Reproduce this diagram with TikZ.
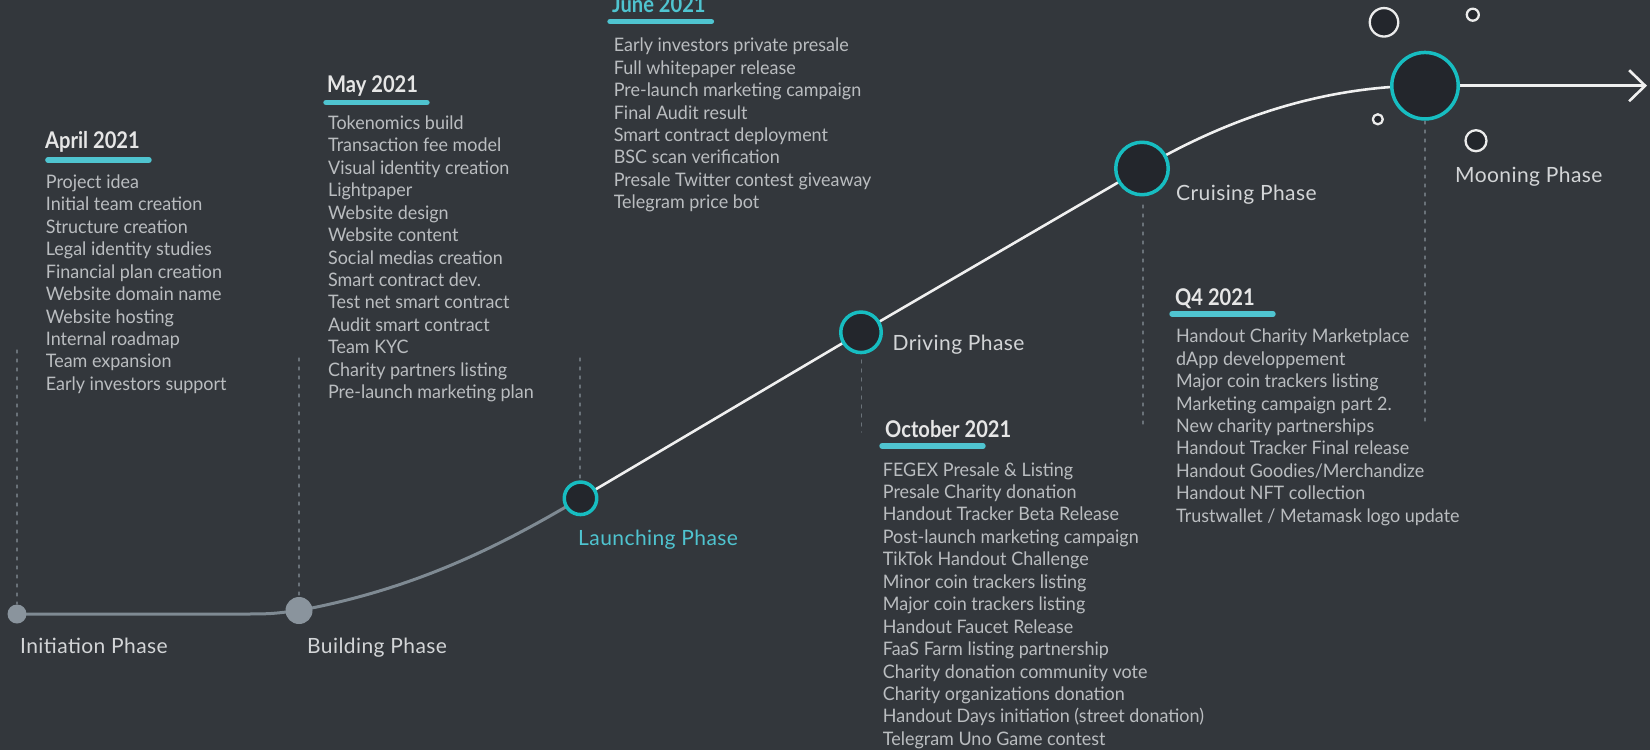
\documentclass[tikz,border=0pt]{standalone}
\usepackage{fontspec}
\setmainfont{Lato}
\newfontfamily\itemfont{Lato}[FakeStretch=0.965]
\newfontfamily\headfont{Lato}[FakeStretch=0.875]
\newfontfamily\phasefont{Lato}[LetterSpace=2.0]
\usetikzlibrary{arrows.meta,positioning}
\definecolor{bgc}{HTML}{33373C}
\definecolor{dotfill}{HTML}{23262C}
\definecolor{teal}{HTML}{17BDC1}
\definecolor{cyanbar}{HTML}{4FC4D0}
\definecolor{itemc}{HTML}{BABDC0}
\definecolor{phasec}{HTML}{D3D5D7}
\definecolor{headc}{HTML}{E6E6E6}
\definecolor{greyline}{HTML}{7F8A93}
\definecolor{greydot}{HTML}{8A949D}
\definecolor{guidec}{HTML}{6A7279}
\tikzset{
  phasedot/.style={circle, draw=teal, line width=3.5pt, fill=dotfill, inner sep=0pt},
  greyball/.style={circle, fill=greydot, inner sep=0pt},
  bubble/.style={circle, draw=white!92!black, line width=2.3pt, fill=dotfill, inner sep=0pt},
  phase/.style={anchor=base west, inner sep=0pt, text=phasec, font=\phasefont\fontsize{21}{24}\selectfont},
  head/.style={anchor=base west, inner sep=0pt, text=headc, font=\headfont\fontsize{23}{26}\selectfont\bfseries},
  item/.style={anchor=base west, inner sep=0pt, text=itemc, font=\itemfont\fontsize{18.6}{22}\selectfont},
  bar/.style={cyanbar, line width=5.4pt},
  guide/.style={guidec, line width=1.1pt, dash pattern=on 3pt off 6pt},
}
\begin{document}
\begin{tikzpicture}[x=1pt, y=-1pt, line join=round, line cap=round]
  \def\dy{22.45}
  \fill[bgc] (0,0) rectangle (1650,750);
  \useasboundingbox (0,0) rectangle (1650,750);
  % guide lines
  \foreach \x/\ya/\yb in {17/350/604, 299/358/597, 580/358/478, 861.5/360/432, 1143/205/424, 1425/121/424}
    \draw[guide] (\x,\ya) -- (\x,\yb);
  % track
  \coordinate (pInit) at (17,614);
  \coordinate (pBuild) at (299,610.5);
  \coordinate (pLaunch) at (580.5,498.3);
  \coordinate (pDrive) at (861,332.3);
  \coordinate (pCruise) at (1142,168.5);
  \coordinate (pMoon) at (1425,85.7);
  \coordinate (pEnd) at (1647,85.7);
  \draw[greyline, line width=3pt] (pInit) -- (240,614) .. controls (270,614) .. (pBuild)
    .. controls (420,588) and (505,543) .. (pLaunch);
  \draw[white!94!black, line width=2.6pt] (pLaunch) -- (pDrive) -- (pCruise)
    .. controls (1235,114) and (1330,86) .. (pMoon);
  \draw[white!94!black, line width=2.6pt, -{Straight Barb[length=16pt,width=31pt]}] (pMoon) -- (pEnd);
  % phase dots
  \node[greyball, minimum size=19pt] (init) at (pInit) {};
  \node[greyball, minimum size=27pt] (build) at (pBuild) {};
  \node[phasedot, minimum size=32.5pt] (launch) at (pLaunch) {};
  \node[phasedot, minimum size=40.5pt] (drive) at (pDrive) {};
  \node[phasedot, minimum size=52.5pt] (cruise) at (pCruise) {};
  \node[phasedot, minimum size=66.5pt] (moon) at (pMoon) {};
  \node[bubble, minimum size=28.5pt] (b1) at (1384,22.3) {};
  \node[bubble, minimum size=12pt] (b2) at (1472.8,14.7) {};
  \node[bubble, minimum size=10pt] (b3) at (1377.8,119.3) {};
  \node[bubble, minimum size=21pt] (b4) at (1476,140.7) {};
  % phase names
  \node[phase] (initLbl) at (20,653) {Initiation Phase};
  \node[phase] (buildLbl) at (307,653) {Building Phase};
  \node[phase, text=cyanbar] (launchLbl) at (578,545) {Launching Phase};
  \node[phase] (driveLbl) at (892.5,350) {Driving Phase};
  \node[phase] (cruiseLbl) at (1176,200) {Cruising Phase};
  \node[phase] (moonLbl) at (1455,182.3) {Mooning Phase};
  % April
  \node[head] (aprHead) at (45,148) {April 2021};
  \draw[bar] (47.9,160) -- (149,160);
  \foreach \t [count=\i from 0] in {Project idea, Initial team creation, Structure creation,
      Legal identity studies, Financial plan creation, Website domain name, Website hosting,
      Internal roadmap, Team expansion, Early investors support}
    \node[item] (apr\i) at (45.7,188.3+\dy*\i) {\t};
  % May
  \node[head] (mayHead) at (327,92.6) {May 2021};
  \draw[bar] (326,102.5) -- (427,102.5);
  \foreach \t [count=\i from 0] in {Tokenomics build, Transaction fee model, Visual identity creation,
      Lightpaper, Website design, Website content, Social medias creation, Smart contract dev.,
      Test net smart contract, Audit smart contract, Team KYC, Charity partners listing,
      Pre-launch marketing plan}
    \node[item] (may\i) at (327.9,129.3+\dy*\i) {\t};
  % June
  \node[head, text=cyanbar] (junHead) at (612,12.7) {June 2021};
  \draw[bar] (610,21.6) -- (711.4,21.6);
  \foreach \t [count=\i from 0] in {Early investors private presale, Full whitepaper release,
      Pre-launch marketing campaign, Final Audit result, Smart contract deployment,
      BSC scan verification, Presale Twitter contest giveaway, Telegram price bot}
    \node[item] (jun\i) at (613.6,51.7+\dy*\i) {\t};
  % October
  \node[head] (octHead) at (885,437.7) {October 2021};
  \draw[bar] (882,446) -- (983,446);
  \foreach \t [count=\i from 0] in {FEGEX Presale \& Listing, Presale Charity donation,
      Handout Tracker Beta Release, Post-launch marketing campaign, TikTok Handout Challenge,
      Minor coin trackers listing, Major coin trackers listing, Handout Faucet Release,
      FaaS Farm listing partnership, Charity donation community vote,
      Charity organizations donation, Handout Days initiation (street donation),
      Telegram Uno Game contest}
    \node[item] (oct\i) at (882.7,476+\dy*\i) {\t};
  % Q4
  \node[head] (qHead) at (1175,305) {Q4 2021};
  \draw[bar] (1172,314) -- (1273,314);
  \foreach \t [count=\i from 0] in {Handout Charity Marketplace, dApp developpement,
      Major coin trackers listing, Marketing campaign part 2., New charity partnerships,
      Handout Tracker Final release, Handout Goodies/Merchandize, Handout NFT collection,
      Trustwallet / Metamask logo update}
    \node[item] (q\i) at (1176,342.7+\dy*\i) {\t};
\end{tikzpicture}
\end{document}
